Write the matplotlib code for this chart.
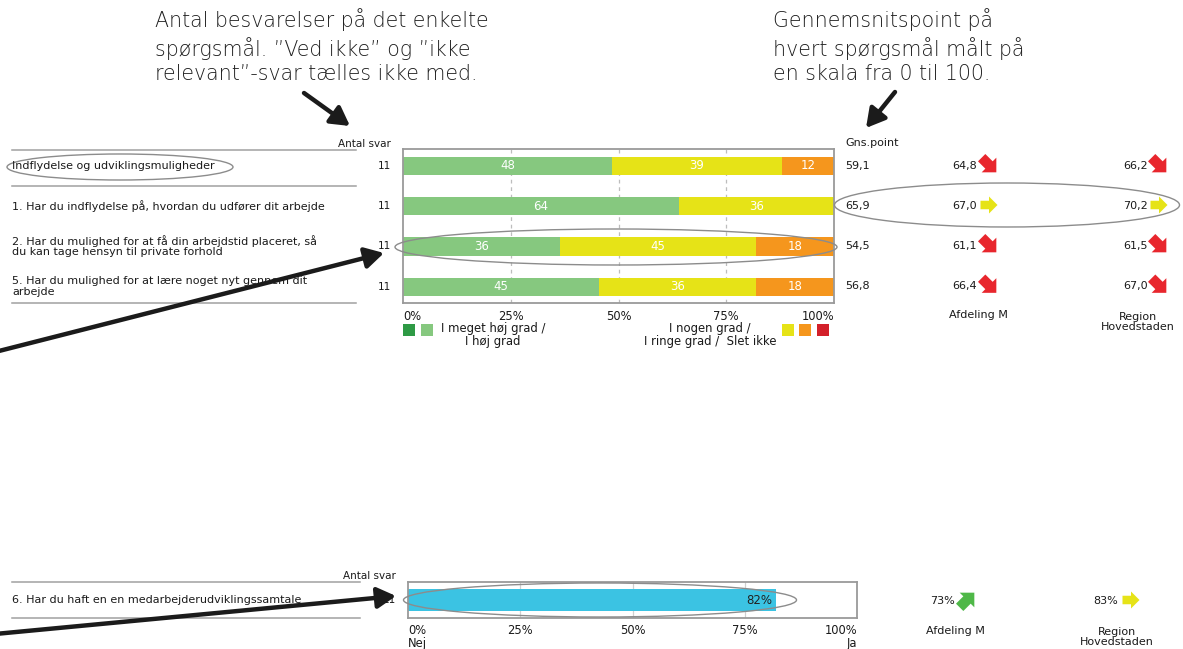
import numpy as np
import matplotlib
matplotlib.use("Agg")
import matplotlib.pyplot as plt
from matplotlib.patches import Ellipse, Polygon, Rectangle

# ---- data -------------------------------------------------------------
questions = [
    "Indflydelse og udviklingsmuligheder",
    "1. Har du indflydelse på, hvordan du udfører dit arbejde",
    "2. Har du mulighed for at få din arbejdstid placeret, så\ndu kan tage hensyn til private forhold",
    "5. Har du mulighed for at lære noget nyt gennem dit\narbejde",
]
antal_svar = [11, 11, 11, 11]
pct_hoej = [48, 64, 36, 45]      # I meget høj grad / I høj grad
pct_nogen = [39, 36, 45, 36]     # I nogen grad
pct_ringe = [12, 0, 18, 18]      # I ringe grad
pct_slet = [0, 0, 0, 0]          # Slet ikke
gns_point = [59.1, 65.9, 54.5, 56.8]
afdeling_m = [64.8, 67.0, 61.1, 66.4]
region_h = [66.2, 70.2, 61.5, 67.0]
afdeling_trend = ["down", "same", "down", "down"]
region_trend = ["down", "same", "down", "down"]

mus_question = "6. Har du haft en en medarbejderudviklingssamtale"
mus_antal = 11
mus_ja = 82
mus_afdeling = 73
mus_region = 83
mus_afdeling_trend = "up"
mus_region_trend = "same"

tick_vals = [0, 25, 50, 75, 100]
tick_labels = ["0%", "25%", "50%", "75%", "100%"]

# ---- style ------------------------------------------------------------
C_DKGREEN = "#2e9a45"
C_GREEN = "#86c87f"
C_YELLOW = "#e6e317"
C_ORANGE = "#f5961d"
C_RED = "#d3202a"
C_CYAN = "#3bc3e3"
C_ARROW_RED = "#e8262d"
C_ARROW_GREEN = "#4fb848"
C_FRAME = "#9a9a9a"
C_TXT = "#1a1a1a"
FS_LABEL = 8.0
FS_SMALL = 8.3

W, H = 1183, 649
fig = plt.figure(figsize=(W / 100, H / 100), dpi=100)
fig.patch.set_facecolor("white")


def fx(px):
    return px / W


def fy(py):
    return 1 - py / H


def frame_axes(ax):
    for s in ax.spines.values():
        s.set_color(C_FRAME)
        s.set_linewidth(1.3)
    ax.set_xticks([])
    ax.set_yticks([])
    ax.set_xlim(0, 100)


# ---- top stacked bar chart -------------------------------------------
top_l, top_r, top_t, top_b = 403, 834, 149, 303
ax1 = fig.add_axes([fx(top_l), fy(top_b), (top_r - top_l) / W, (top_b - top_t) / H])
frame_axes(ax1)
ax1.set_ylim(3.4, -0.42)
for g in tick_vals[1:-1]:
    ax1.axvline(g, color="#bdbdbd", lw=0.9, ls=(0, (3, 3)), zorder=0)

segments = np.array([pct_hoej, pct_nogen, pct_ringe, pct_slet], dtype=float)
seg_colors = [C_GREEN, C_YELLOW, C_ORANGE, C_RED]
totals = segments.sum(axis=0)
shares = segments / totals * 100  # rounded labels; bars fill the row
ypos = np.arange(len(questions))
left = np.zeros(len(questions))
for k in range(segments.shape[0]):
    ax1.barh(ypos, shares[k], left=left, height=0.45, color=seg_colors[k], zorder=2)
    for i in range(len(questions)):
        if segments[k, i] > 0:
            ax1.text(left[i] + shares[k][i] / 2, ypos[i], f"{segments[k, i]:.0f}",
                     ha="center", va="center", color="white", fontsize=8.5, zorder=3)
    left += shares[k]

for v, lab in zip(tick_vals, tick_labels):
    ha = "left" if v == 0 else ("right" if v == 100 else "center")
    ax1.text(v, -0.09, lab, ha=ha, va="center", fontsize=FS_SMALL,
             transform=ax1.get_xaxis_transform(), color=C_TXT)

# ---- bottom single bar chart -----------------------------------------
bot_l, bot_r, bot_t, bot_b = 408, 857, 582, 618
ax2 = fig.add_axes([fx(bot_l), fy(bot_b), (bot_r - bot_l) / W, (bot_b - bot_t) / H])
frame_axes(ax2)
ax2.set_ylim(-0.5, 0.5)
for g in tick_vals[1:-1]:
    ax2.axvline(g, color="#d0d0d0", lw=0.9, zorder=0)
ax2.barh([0], [mus_ja], height=0.62, color=C_CYAN, zorder=2)
ax2.annotate(f"{mus_ja}%", xy=(mus_ja, 0), xytext=(-3, 0), textcoords="offset points",
             ha="right", va="center", fontsize=8.5, color="#222222", zorder=3)
for v, lab in zip(tick_vals, tick_labels):
    ha = "left" if v == 0 else ("right" if v == 100 else "center")
    ax2.text(v, -0.36, lab, ha=ha, va="center", fontsize=FS_SMALL,
             transform=ax2.get_xaxis_transform(), color=C_TXT)
ax2.text(0, -0.72, "Nej", ha="left", va="center", fontsize=FS_SMALL,
         transform=ax2.get_xaxis_transform(), color=C_TXT)
ax2.text(100, -0.72, "Ja", ha="right", va="center", fontsize=FS_SMALL,
         transform=ax2.get_xaxis_transform(), color=C_TXT)

# ---- overlay in pixel coordinates -----------------------------------
ov = fig.add_axes([0, 0, 1, 1])
ov.set_xlim(0, W)
ov.set_ylim(H, 0)
ov.axis("off")


def block_arrow(cx, cy, direction, size=17):
    angle = {"down": 45, "same": 0, "up": -45}[direction]
    color = {"down": C_ARROW_RED, "same": C_YELLOW, "up": C_ARROW_GREEN}[direction]
    pts = np.array([(-0.5, -0.25), (0.0, -0.25), (0.0, -0.5), (0.5, 0.0),
                    (0.0, 0.5), (0.0, 0.25), (-0.5, 0.25)])
    if direction != "same":
        size = size * 1.22
    a = np.deg2rad(angle)
    rot = np.array([[np.cos(a), -np.sin(a)], [np.sin(a), np.cos(a)]])
    pts = pts @ rot.T * size + [cx, cy]
    ov.add_patch(Polygon(pts, closed=True, color=color, lw=0))


row_y = [166, 206, 246, 286.5]
rule_kw = dict(color="#a0a0a0", lw=1.1)

# left block
ov.text(391, 144, "Antal svar", ha="right", va="center", fontsize=7.5, color=C_TXT)
ov.plot([12, 356], [150, 150], **rule_kw)
ov.plot([12, 356], [186, 186], **rule_kw)
ov.plot([12, 356], [303, 303], **rule_kw)
for y, q, n in zip(row_y, questions, antal_svar):
    ov.text(12, y, q, ha="left", va="center", fontsize=FS_LABEL, color=C_TXT, linespacing=1.05)
    ov.text(391, y, str(n), ha="right", va="center", fontsize=7.5, color=C_TXT)

# right block
ov.text(845, 143, "Gns.point", ha="left", va="center", fontsize=FS_LABEL, color=C_TXT)
for y, g, a, r, ta, tr in zip(row_y, gns_point, afdeling_m, region_h,
                               afdeling_trend, region_trend):
    ov.text(845, y, f"{g:.1f}".replace(".", ","), ha="left", va="center", fontsize=8, color=C_TXT)
    ov.text(977, y, f"{a:.1f}".replace(".", ","), ha="right", va="center", fontsize=8, color=C_TXT)
    block_arrow(989, y - 1, ta)
    ov.text(1148, y, f"{r:.1f}".replace(".", ","), ha="right", va="center", fontsize=8, color=C_TXT)
    block_arrow(1159, y - 1, tr)
ov.text(978, 315, "Afdeling M", ha="center", va="center", fontsize=FS_LABEL, color=C_TXT)
ov.text(1138, 322, "Region\nHovedstaden", ha="center", va="center", fontsize=FS_LABEL,
        color=C_TXT, linespacing=1.05)

# legend
legend_boxes = [(403, C_DKGREEN), (421, C_GREEN), (782, C_YELLOW), (799, C_ORANGE), (817, C_RED)]
for x0, c in legend_boxes:
    ov.add_patch(Rectangle((x0, 324), 12, 12, color=c, lw=0))
ov.text(493, 335, "I meget høj grad /\nI høj grad", ha="center", va="center",
        fontsize=8.4, color=C_TXT, linespacing=1.05)
ov.text(710, 335, "I nogen grad /\nI ringe grad /  Slet ikke", ha="center", va="center",
        fontsize=8.4, color=C_TXT, linespacing=1.05)

# bottom block
ov.text(396, 576, "Antal svar", ha="right", va="center", fontsize=7.5, color=C_TXT)
ov.plot([12, 360], [582, 582], **rule_kw)
ov.plot([12, 360], [618, 618], **rule_kw)
ov.text(12, 600, mus_question, ha="left", va="center", fontsize=FS_LABEL, color=C_TXT)
ov.text(396, 600, str(mus_antal), ha="right", va="center", fontsize=7.5, color=C_TXT)
ov.text(955, 601, f"{mus_afdeling}%", ha="right", va="center", fontsize=8, color=C_TXT)
block_arrow(967, 600, mus_afdeling_trend)
ov.text(1118, 601, f"{mus_region}%", ha="right", va="center", fontsize=8, color=C_TXT)
block_arrow(1131, 600, mus_region_trend)
ov.text(955, 631, "Afdeling M", ha="center", va="center", fontsize=FS_LABEL, color=C_TXT)
ov.text(1117, 637, "Region\nHovedstaden", ha="center", va="center", fontsize=FS_LABEL,
        color=C_TXT, linespacing=1.0)

# highlight ellipses
ell_kw = dict(fill=False, ec="#8c8c8c", lw=1.0)
ov.add_patch(Ellipse((120, 167), 226, 26, **ell_kw))
ov.add_patch(Ellipse((1007, 205), 345, 44, **ell_kw))
ov.add_patch(Ellipse((616, 247), 442, 36, **ell_kw))
ov.add_patch(Ellipse((600, 600), 393, 34, **ell_kw))

# explanatory notes
note_kw = dict(fontsize=14.8, color="#1e1e1e", ha="left", va="top",
               family=["DejaVu Sans"], fontweight="light", linespacing=1.3)
ov.text(155, 8, "Antal besvarelser på det enkelte\nspørgsmål. \u201dVed ikke\u201d og \u201dikke\nrelevant\u201d-svar tælles ikke med.", **note_kw)
ov.text(773, 8, "Gennemsnitspoint på\nhvert spørgsmål målt på\nen skala fra 0 til 100.", **note_kw)

arrow_kw = dict(arrowstyle="-|>,head_length=0.8,head_width=0.45", lw=3.2,
                color="#1b1b1b", shrinkA=0, shrinkB=0, mutation_scale=14)
ov.annotate("", xy=(350, 126), xytext=(304, 93), arrowprops=arrow_kw)
ov.annotate("", xy=(866, 128), xytext=(895, 92), arrowprops=arrow_kw)
ov.annotate("", xy=(384, 253), xytext=(-5, 352), arrowprops=arrow_kw)
ov.annotate("", xy=(396, 596), xytext=(-5, 634), arrowprops=arrow_kw)

fig.savefig("out.png", dpi=100, facecolor="white")
